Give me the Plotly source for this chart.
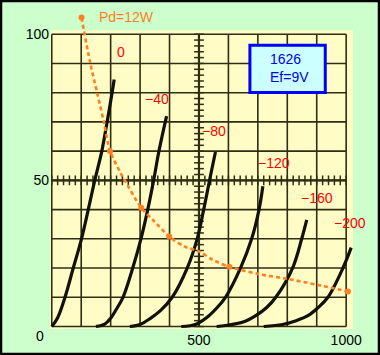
import numpy as np
import plotly.graph_objects as go

# ---- data (plate voltage Vp [V], plate current Ip [mA]) ----
grid_labels = ["0", "−40", "−80", "−120", "−160", "−200"]

vp_g0 = [0, 20, 45, 73, 101, 124, 146, 170, 188, 205, 212]
ip_g0 = [0, 3, 10, 20, 30, 40, 50, 60, 70, 80, 84.5]

vp_g40 = [150, 180, 200, 220, 242, 275, 303, 326, 346, 364, 390]
ip_g40 = [0, 0.8, 2.8, 6, 10, 20, 30, 40, 50, 60, 72]

vp_g80 = [265, 300, 334, 370, 409, 460, 494, 516, 540, 556]
ip_g80 = [0, 0.7, 2.7, 5.5, 10, 20, 30, 40, 52, 59.7]

vp_g120 = [440, 490, 534, 562, 590, 641, 679, 704, 717]
ip_g120 = [0, 0.8, 3.7, 6.5, 10, 20, 30, 40, 48]

vp_g160 = [560, 601, 650, 693, 730, 761, 818, 849, 866]
ip_g160 = [0, 0.5, 1.5, 3.7, 6.5, 10, 20, 30, 36.5]

vp_g200 = [720, 784, 830, 870, 905, 938, 989, 1017]
ip_g200 = [0, 0.7, 2, 3.7, 6.5, 10, 20, 27]

# Pd = 12 W dissipation curve
pd_vp = [101, 131, 155, 177, 198, 234, 248, 304, 348, 399, 450, 502, 547, 603, 700, 800, 900, 1006]
pd_ip = [105.7, 90, 79.6, 70, 60, 52.5, 50, 40.6, 36, 30.8, 27.4, 25.6, 22.8, 20.4, 18, 16.3, 14.3, 12]
pd_dot_vp = [101, 198, 304, 399, 603, 1006]
pd_dot_ip = [105.7, 60, 40.6, 30.8, 20.4, 12]

# label positions (data coords)
label_vp = [235, 359, 551, 755, 900, 1012]
label_ip = [93.8, 77.7, 67, 55.8, 44, 35.3]

x_ticks = [500, 1000]
y_ticks = [50, 100]
x_grid = np.arange(0, 1001, 100)
y_grid = np.arange(0, 101, 10)

# ---- figure ----
W, H = 380, 355
ML, MR, MT, MB = 50, 25, 5, 25
XR = [-6, 1030]
YR = [-1.2, 110]

fig = go.Figure()

GRID_C = "#2e2e14"
gx, gy = [], []
for v in x_grid:
    gx += [v, v, None]
    gy += [0, 100, None]
for h in y_grid:
    gx += [0, 1000, None]
    gy += [h, h, None]
fig.add_trace(go.Scatter(x=gx, y=gy, mode="lines",
                         line=dict(color=GRID_C, width=1.6), hoverinfo="skip"))
# thicker centre lines
fig.add_trace(go.Scatter(x=[0, 1000, None, 500, 500], y=[50, 50, None, 0, 100], mode="lines",
                         line=dict(color=GRID_C, width=2.2), hoverinfo="skip"))
# small ticks on centre lines
tx = np.arange(0, 1001, 20)
fig.add_trace(go.Scatter(x=tx, y=[50] * len(tx), mode="markers",
                         marker=dict(symbol="line-ns", size=7, line=dict(color=GRID_C, width=1.5)),
                         hoverinfo="skip"))
ty = np.arange(0, 101, 2)
fig.add_trace(go.Scatter(x=[500] * len(ty), y=ty, mode="markers",
                         marker=dict(symbol="line-ew", size=7, line=dict(color=GRID_C, width=1.5)),
                         hoverinfo="skip"))

curves = [(vp_g0, ip_g0), (vp_g40, ip_g40), (vp_g80, ip_g80),
          (vp_g120, ip_g120), (vp_g160, ip_g160), (vp_g200, ip_g200)]
for (vx, iy) in curves:
    fig.add_trace(go.Scatter(x=vx, y=iy, mode="lines",
                             line=dict(color="#111108", width=3.2, shape="spline", smoothing=1.0),
                             hoverinfo="skip"))

ORANGE = "#FF8020"
fig.add_trace(go.Scatter(x=pd_vp, y=pd_ip, mode="lines",
                         line=dict(color=ORANGE, width=2.6, dash="4px,3px", shape="spline", smoothing=0.8),
                         hoverinfo="skip"))
fig.add_trace(go.Scatter(x=pd_dot_vp, y=pd_dot_ip, mode="markers", cliponaxis=False,
                         marker=dict(color=ORANGE, size=6), hoverinfo="skip"))

FONT = "Liberation Sans, Arial, sans-serif"
annotations = []
for t, x, y in zip(grid_labels, label_vp, label_ip):
    annotations.append(dict(x=x, y=y, xref="x", yref="y", text=t, showarrow=False,
                            font=dict(color="#FF0000", size=14, family=FONT),
                            xanchor="center", yanchor="middle"))
annotations.append(dict(x=153, y=105.8, xref="x", yref="y", text="Pd=12W", showarrow=False,
                        font=dict(color=ORANGE, size=14, family=FONT),
                        xanchor="left", yanchor="middle"))
annotations.append(dict(x=0, y=0, xref="x", yref="y", text="0", showarrow=False,
                        font=dict(color="#000000", size=14, family=FONT),
                        xanchor="center", yanchor="middle", xshift=-12, yshift=-10))
annotations.append(dict(x=733, y=88.5, xref="x", yref="y", text="1626<br>Ef=9V", showarrow=False,
                        align="left", font=dict(color="#0000EE", size=14, family=FONT),
                        xanchor="left", yanchor="middle"))

shapes = [
    # scanned paper area
    dict(type="rect", xref="x", yref="y", x0=-6, x1=1023, y0=-0.9, y1=101.4,
         fillcolor="#FFFCC6", line=dict(width=0), layer="below"),
    # label box
    dict(type="rect", xref="x", yref="y", x0=673, x1=929, y0=80.1, y1=96.2,
         fillcolor="#CCFFFF", line=dict(color="#0000FF", width=3), layer="above"),
    # outer frame
    dict(type="rect", xref="paper", yref="paper",
         x0=-(ML - 1) / (W - ML - MR), x1=1 + (MR - 1) / (W - ML - MR),
         y0=-(MB - 1) / (H - MT - MB), y1=1 + (MT - 1) / (H - MT - MB),
         line=dict(color="#000000", width=2.5), layer="above"),
]

fig.update_layout(
    width=W, height=H,
    margin=dict(l=ML, r=MR, t=MT, b=MB, pad=0),
    paper_bgcolor="#CCFFCC",
    plot_bgcolor="rgba(0,0,0,0)",
    showlegend=False,
    annotations=annotations,
    shapes=shapes,
    font=dict(family=FONT, size=14, color="#000000"),
    xaxis=dict(range=XR, showgrid=False, zeroline=False, showline=False,
               tickvals=x_ticks, ticktext=[str(v) for v in x_ticks], ticks="",
               tickfont=dict(size=14, color="#000000"), fixedrange=True),
    yaxis=dict(range=YR, showgrid=False, zeroline=False, showline=False,
               tickvals=y_ticks, ticktext=[str(v) for v in y_ticks], ticks="",
               tickfont=dict(size=14, color="#000000"), fixedrange=True),
)

fig.write_html("out.html", config=dict(displayModeBar=False),
               post_script="document.body.style.margin='0px';document.body.style.overflow='hidden';")
